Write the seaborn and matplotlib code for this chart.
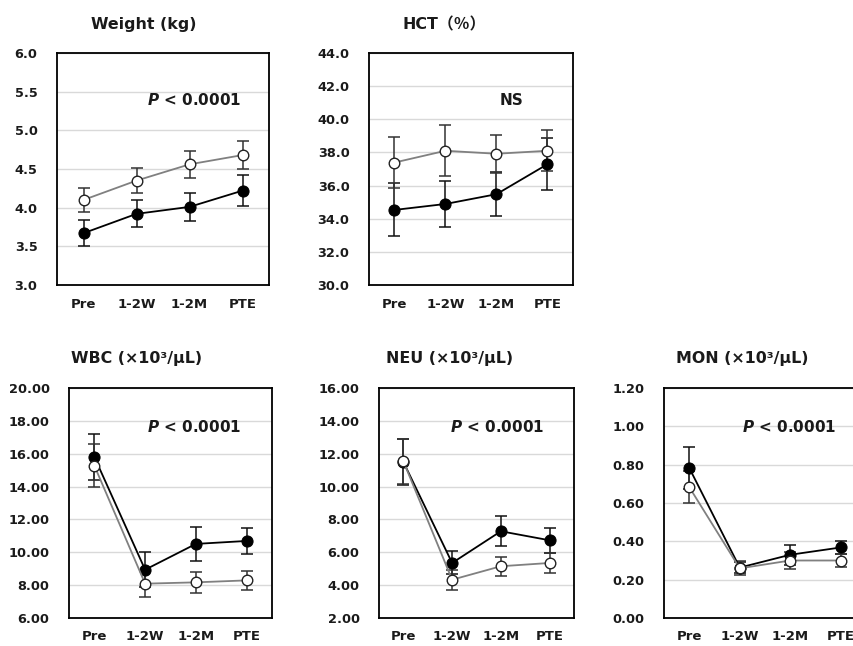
import numpy as np
import pandas as pd
import matplotlib
matplotlib.use("Agg")
import matplotlib.pyplot as plt
import seaborn as sns

# ---- data ----
timepoints = ["Pre", "1-2W", "1-2M", "PTE"]

weight_filled = [3.67, 3.92, 4.01, 4.22]
weight_filled_err = [0.17, 0.175, 0.185, 0.20]
weight_open = [4.10, 4.35, 4.56, 4.68]
weight_open_err = [0.16, 0.165, 0.17, 0.18]

hct_filled = [34.53, 34.89, 35.48, 37.29]
hct_filled_err = [1.6, 1.38, 1.33, 1.56]
hct_open = [37.39, 38.10, 37.92, 38.10]
hct_open_err = [1.52, 1.53, 1.16, 1.25]

wbc_filled = [15.80, 8.94, 10.51, 10.69]
wbc_filled_err = [1.42, 1.05, 1.05, 0.77]
wbc_open = [15.27, 8.09, 8.17, 8.29]
wbc_open_err = [1.32, 0.80, 0.65, 0.60]

neu_filled = [11.50, 5.35, 7.28, 6.73]
neu_filled_err = [1.40, 0.70, 0.92, 0.76]
neu_open = [11.54, 4.33, 5.15, 5.35]
neu_open_err = [1.38, 0.62, 0.58, 0.62]

mon_filled = [0.783, 0.263, 0.330, 0.368]
mon_filled_err = [0.11, 0.027, 0.052, 0.035]
mon_open = [0.683, 0.259, 0.300, 0.300]
mon_open_err = [0.085, 0.036, 0.046, 0.035]

titles = ["Weight (kg)", "HCT（％）", "WBC (×10³/μL)", "NEU (×10³/μL)", "MON (×10³/μL)"]
annotations = ["$P$ < 0.0001", "NS", "$P$ < 0.0001", "$P$ < 0.0001", "$P$ < 0.0001"]
y_limits = [(3.0, 6.0), (30.0, 44.0), (6.0, 20.0), (2.0, 16.0), (0.0, 1.2)]
y_steps = [0.5, 2.0, 2.0, 2.0, 0.2]
y_formats = ["{:.1f}", "{:.1f}", "{:.2f}", "{:.2f}", "{:.2f}"]

panels = [
    (weight_filled, weight_filled_err, weight_open, weight_open_err),
    (hct_filled, hct_filled_err, hct_open, hct_open_err),
    (wbc_filled, wbc_filled_err, wbc_open, wbc_open_err),
    (neu_filled, neu_filled_err, neu_open, neu_open_err),
    (mon_filled, mon_filled_err, mon_open, mon_open_err),
]

# ---- style ----
sns.set_style("white")
plt.rcParams["font.family"] = ["DejaVu Sans", "Noto Sans CJK JP"]
plt.rcParams["mathtext.fontset"] = "custom"
plt.rcParams["mathtext.it"] = "DejaVu Sans:italic:bold"
plt.rcParams["mathtext.rm"] = "DejaVu Sans:bold"

W, H = 854, 646
fig = plt.figure(figsize=(W / 100, H / 100), dpi=100)

# pixel boxes: left, top, right, bottom
boxes = [
    (57, 53, 269, 285),
    (369, 53, 573, 285),
    (69, 388, 272, 618),
    (379, 388, 574, 618),
    (664, 388, 866, 618),
]
title_pos = [(144, 25), (444, 25), (137, 358), (450, 358), (742, 358)]
annot_pos = [(0.646, 0.797), (0.70, 0.797), (0.616, 0.83), (0.605, 0.83), (0.619, 0.83)]

x = np.arange(len(timepoints))
txt_color = "#1a1a1a"

for i, (fvals, ferr, ovals, oerr) in enumerate(panels):
    l, t, r, b = boxes[i]
    ax = fig.add_axes([l / W, 1 - b / H, (r - l) / W, (b - t) / H])

    df = pd.DataFrame({
        "x": np.concatenate([x, x]),
        "y": np.concatenate([fvals, ovals]),
        "grp": ["filled"] * 4 + ["open"] * 4,
    })

    # error bars
    ax.errorbar(x, fvals, yerr=ferr, fmt="none", ecolor="#111111",
                elinewidth=1.1, capsize=4.5, capthick=1.1, zorder=2)
    ax.errorbar(x, ovals, yerr=oerr, fmt="none", ecolor="#333333",
                elinewidth=1.1, capsize=4.5, capthick=1.1, zorder=2)

    sns.lineplot(data=df[df.grp == "filled"], x="x", y="y", ax=ax,
                 color="black", linewidth=1.3, marker="o", markersize=8,
                 markerfacecolor="black", markeredgecolor="black",
                 zorder=3, legend=False)
    sns.lineplot(data=df[df.grp == "open"], x="x", y="y", ax=ax,
                 color="#808080", linewidth=1.3, marker="o", markersize=7.6,
                 markerfacecolor="white", markeredgecolor="#222222",
                 markeredgewidth=1.0, zorder=4, legend=False)

    lo, hi = y_limits[i]
    ax.set_ylim(lo, hi)
    ax.set_xlim(-0.5, 3.5)
    ticks = np.arange(lo, hi + y_steps[i] / 2, y_steps[i])
    ax.set_yticks(ticks)
    ax.set_yticklabels([y_formats[i].format(v) for v in ticks],
                       fontsize=9.3, fontweight="bold", color=txt_color)
    ax.set_xticks(x)
    ax.set_xticklabels(timepoints, fontsize=9.5, fontweight="bold", color=txt_color)
    ax.tick_params(axis="both", length=0)
    ax.tick_params(axis="y", pad=14)
    ax.tick_params(axis="x", pad=9)
    ax.set_xlabel("")
    ax.set_ylabel("")
    ax.grid(axis="y", color="#d9d9d9", linewidth=1.0)
    ax.grid(axis="x", visible=False)
    ax.set_axisbelow(True)
    for s in ax.spines.values():
        s.set_visible(True)
        s.set_color("black")
        s.set_linewidth(1.3)

    ax.text(annot_pos[i][0], annot_pos[i][1], annotations[i], transform=ax.transAxes,
            ha="center", va="center", fontsize=11, fontweight="bold", color=txt_color)

    tx, ty = title_pos[i]
    fig.text(tx / W, 1 - ty / H, titles[i], ha="center", va="center",
             fontsize=11.4, fontweight="bold", color=txt_color)

fig.savefig("out.png", dpi=100)
